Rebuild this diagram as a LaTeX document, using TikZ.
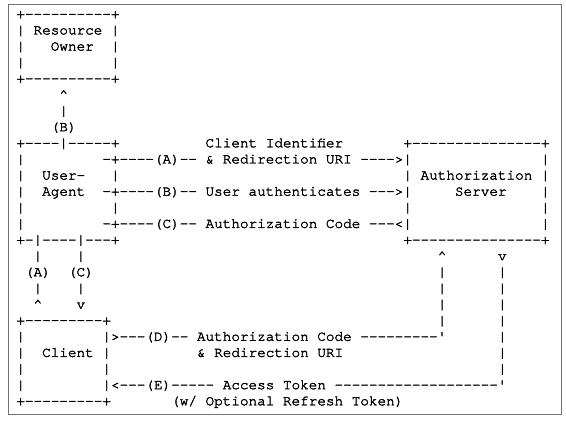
\documentclass[tikz,border=0pt]{standalone}
\usepackage{fontspec}
\setmonofont{TeX Gyre Cursor}[FakeBold=2.2]
\tikzset{
  ascii/.style={anchor=base west, inner sep=0pt, outer sep=0pt,
    font=\ttfamily\fontsize{14.33}{16}\selectfont},
  frame/.style={draw=black!55, line width=1pt}
}
\newcommand{\up}{\textasciicircum}
\begin{document}
\begin{tikzpicture}
\useasboundingbox (0pt,0pt) rectangle (566pt,-422pt);
\draw[frame] (8pt,-5pt) rectangle (561pt,-415pt);
\begin{scope}[shift={(16.4pt,-18.3pt)}, x=8.6pt, y=-16.125pt]
% Resource Owner
\node[ascii] (L0) at (0,0) {+----------+};
\node[ascii] (L1) at (0,1) {| Resource |};
\node[ascii] (L2a) at (0,2) {|};
\node[ascii] (L2b) at (4,2) {Owner};
\node[ascii] (L2c) at (11,2) {|};
\node[ascii] (L3a) at (0,3) {|};
\node[ascii] (L3b) at (11,3) {|};
\node[ascii] (L4) at (0,4) {+----------+};
\node[ascii] (L5) at (5,5) {\up};
\node[ascii] (L6) at (5,6) {|};
\node[ascii] (L7) at (4,7) {(B)};
% User-Agent and Authorization Server
\node[ascii] (L8a) at (0,8) {+----|-----+};
\node[ascii] (L8b) at (22,8) {Client Identifier};
\node[ascii] (L8c) at (45,8) {+---------------+};
\node[ascii] (L9a) at (0,9) {|};
\node[ascii] (L9b) at (10,9) {-+----(A)-- \& Redirection URI ---->|};
\node[ascii] (L9c) at (61,9) {|};
\node[ascii] (L10a) at (0,10) {|};
\node[ascii] (L10b) at (3,10) {User-};
\node[ascii] (L10c) at (11,10) {|};
\node[ascii] (L10d) at (45,10) {|};
\node[ascii] (L10e) at (47,10) {Authorization};
\node[ascii] (L10f) at (61,10) {|};
\node[ascii] (L11a) at (0,11) {|};
\node[ascii] (L11b) at (3,11) {Agent};
\node[ascii] (L11c) at (10,11) {-+----(B)-- User authenticates --->|};
\node[ascii] (L11d) at (51,11) {Server};
\node[ascii] (L11e) at (61,11) {|};
\node[ascii] (L12a) at (0,12) {|};
\node[ascii] (L12b) at (11,12) {|};
\node[ascii] (L12c) at (45,12) {|};
\node[ascii] (L12d) at (61,12) {|};
\node[ascii] (L13a) at (0,13) {|};
\node[ascii] (L13b) at (10,13) {-+----(C)-- Authorization Code ---<|};
\node[ascii] (L13c) at (61,13) {|};
\node[ascii] (L14a) at (0,14) {+-|----|---+};
\node[ascii] (L14b) at (45,14) {+---------------+};
% links down to the Client
\node[ascii] (L15a) at (2,15) {|};
\node[ascii] (L15b) at (7,15) {|};
\node[ascii] (L15c) at (49,15) {\up};
\node[ascii] (L15d) at (56,15) {v};
\node[ascii] (L16a) at (1,16) {(A)};
\node[ascii] (L16b) at (6,16) {(C)};
\node[ascii] (L16c) at (49,16) {|};
\node[ascii] (L16d) at (56,16) {|};
\node[ascii] (L17a) at (2,17) {|};
\node[ascii] (L17b) at (7,17) {|};
\node[ascii] (L17c) at (49,17) {|};
\node[ascii] (L17d) at (56,17) {|};
\node[ascii] (L18a) at (2,18) {\up};
\node[ascii] (L18b) at (7,18) {v};
\node[ascii] (L18c) at (49,18) {|};
\node[ascii] (L18d) at (56,18) {|};
% Client
\node[ascii] (L19a) at (0,19) {+---------+};
\node[ascii] (L19b) at (49,19) {|};
\node[ascii] (L19c) at (56,19) {|};
\node[ascii] (L20a) at (0,20) {|};
\node[ascii] (L20b) at (10,20) {|>---(D)-- Authorization Code ---------'};
\node[ascii] (L20c) at (56,20) {|};
\node[ascii] (L21a) at (0,21) {|};
\node[ascii] (L21b) at (3,21) {Client};
\node[ascii] (L21c) at (10,21) {|};
\node[ascii] (L21d) at (21,21) {\& Redirection URI};
\node[ascii] (L21e) at (56,21) {|};
\node[ascii] (L22a) at (0,22) {|};
\node[ascii] (L22b) at (10,22) {|};
\node[ascii] (L22c) at (56,22) {|};
\node[ascii] (L23a) at (0,23) {|};
\node[ascii] (L23b) at (10,23) {|<---(E)----- Access Token -------------------'};
\node[ascii] (L24a) at (0,24) {+---------+};
\node[ascii] (L24b) at (18,24) {(w/ Optional Refresh Token)};
\end{scope}
\end{tikzpicture}
\end{document}
